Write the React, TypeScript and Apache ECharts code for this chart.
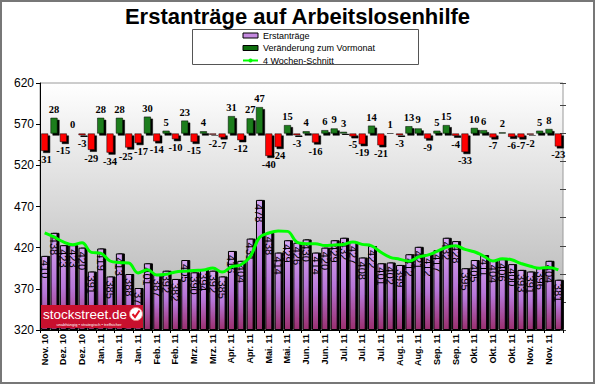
import React, { useEffect, useRef } from 'react';
import * as echarts from 'echarts';

const tickLabels = [
  'Nov. 10', 'Dez. 10', 'Dez. 10', 'Jan. 11', 'Jan. 11', 'Jan. 11', 'Feb. 11', 'Feb. 11',
  'Mrz. 11', 'Mrz. 11', 'Apr. 11', 'Apr. 11', 'Mai. 11', 'Mai. 11', 'Jun. 11', 'Jun. 11',
  'Jul. 11', 'Jul. 11', 'Jul. 11', 'Aug. 11', 'Aug. 11', 'Sep. 11', 'Sep. 11', 'Okt. 11',
  'Okt. 11', 'Okt. 11', 'Nov. 11', 'Nov. 11',
];

const claims = [
  410, 438, 423, 423, 420, 391, 419, 385, 413, 388, 371, 401, 387, 392, 382, 405, 390, 394, 392, 385,
  416, 404, 431, 478, 438, 414, 429, 426, 430, 414, 420, 429, 432, 427, 408, 422, 401, 402, 399, 412,
  421, 412, 417, 432, 428, 395, 405, 411, 404, 406, 400, 393, 391, 396, 404, 381,
];

const changes = [
  -31, 28, -15, 0, -3, -29, 28, -34, 28, -25, -17, 30, -14, 5, -10, 23, -15, 4, -2, -7,
  31, -12, 27, 47, -40, -24, 15, -3, 4, -16, 6, 9, 3, -5, -19, 14, -21, 1, -3, 13,
  9, -9, 5, 15, -4, -33, 10, 6, -7, 2, -6, -7, -2, 5, 8, -23,
];

const avg4 = [
  438, 433, 427, 423.5, 426, 414.3, 413.3, 403.8, 402, 401.3, 389.3, 393.3, 386.8, 387.8, 390.5,
  391.5, 392.3, 392.8, 395.3, 390.3, 396.8, 399.3, 409, 432.3, 437.8, 440.3, 439.8, 426.8, 424.8,
  424.8, 422.5, 423.3, 423.8, 427, 424, 422.3, 414.5, 408.3, 406, 403.5, 408.5, 411, 415.5, 420.5,
  422.3, 418, 415, 409.8, 403.8, 406.5, 405.3, 400.8, 397.5, 395, 396, 393,
];

const categories = claims.map((_, i) => tickLabels[Math.floor(i / 2)]);

export default function App() {
  const ref = useRef<HTMLDivElement>(null);
  useEffect(() => {
    document.body.style.margin = '0';
    const chart = echarts.init(ref.current as HTMLDivElement, null, { renderer: 'svg' });
    const barGrad = new echarts.graphic.LinearGradient(0, 0, 0, 1, [
      { offset: 0, color: '#d9a8f2' },
      { offset: 0.5, color: '#b776d8' },
      { offset: 1, color: '#9a2f6e' },
    ]);
    const plotBg = new echarts.graphic.LinearGradient(0, 0, 0, 1, [
      { offset: 0, color: '#ffffff' },
      { offset: 1, color: '#b0b0b0' },
    ]);
    // nudge labels of adjacent deep negative bars apart so they do not collide
    const labelShift = (i: number) => {
      const v = changes[i];
      if (v >= 0) return 0;
      const prev = i > 0 ? changes[i - 1] : 0;
      const next = i < changes.length - 1 ? changes[i + 1] : 0;
      if (next <= -10 && v <= -10 && Math.abs(v - next) < 12) return -3;
      if (prev <= -10 && v <= -10 && Math.abs(v - prev) < 12) return 3;
      return 0;
    };
    const option: any = {
      animation: false,
      backgroundColor: '#ffffff',
      textStyle: { fontFamily: 'Liberation Sans' },
      title: {
        text: 'Erstanträge auf Arbeitslosenhilfe',
        left: 'center',
        top: 0,
        textStyle: { fontSize: 22, fontWeight: 'bold', color: '#000', fontFamily: 'Liberation Sans' },
      },
      legend: {
        orient: 'vertical',
        left: 242,
        top: 30,
        itemWidth: 15,
        itemHeight: 5,
        itemGap: 1.5,
        padding: 0,
        textStyle: { fontSize: 9, color: '#000', fontFamily: 'Liberation Sans', lineHeight: 11 },
        data: [
          { name: 'Erstanträge', icon: 'rect', itemStyle: { color: '#c58ae0', borderColor: '#000', borderWidth: 1 } },
          { name: 'Veränderung zum Vormonat', icon: 'rect', itemStyle: { color: '#0e6e0e', borderColor: '#000', borderWidth: 1 } },
          { name: '4 Wochen-Schnitt' },
        ],
      },
      grid: {
        left: 40, right: 32, top: 83, bottom: 54,
        show: true, backgroundColor: plotBg, borderColor: '#9a9a9a', borderWidth: 1,
      },
      xAxis: {
        type: 'category',
        data: categories,
        axisLine: { onZero: false, lineStyle: { color: '#000' } },
        axisTick: { show: true, length: 3, lineStyle: { color: '#000' } },
        axisLabel: { interval: 1, rotate: 90, fontSize: 9, fontWeight: 'bold', color: '#000', margin: 4 },
      },
      yAxis: [
        {
          type: 'value', min: 320, max: 620, interval: 50, startValue: 320,
          axisLine: { show: true, lineStyle: { color: '#000' } },
          axisTick: { show: true, length: 4, lineStyle: { color: '#000' } },
          axisLabel: { fontSize: 12, color: '#000', margin: 6 },
          splitLine: { show: false },
        },
        {
          type: 'value', min: -350, max: 90, interval: 50, position: 'right', offset: -3,
          axisLine: { show: false },
          axisTick: { show: true, length: 6, lineStyle: { color: '#444' } },
          axisLabel: { show: false },
          splitLine: { show: false },
        },
      ],
      series: [
        {
          name: 'Erstanträge',
          type: 'bar',
          data: claims,
          barWidth: 7,
          barGap: '-100%',
          itemStyle: {
            color: barGrad, borderColor: '#000', borderWidth: 1,
            shadowColor: '#000', shadowOffsetX: 2, shadowOffsetY: 0, shadowBlur: 0,
          },
          label: {
            show: true, position: 'insideTop', distance: 4, rotate: -90,
            align: 'left', verticalAlign: 'middle', fontSize: 11, color: '#000',
          },
          z: 2,
        },
        {
          name: 'Veränderung zum Vormonat',
          type: 'bar',
          yAxisIndex: 1,
          barWidth: 7,
          barGap: '-100%',
          data: changes.map((v, i) => ({
            value: v,
            itemStyle: { color: v >= 0 ? '#1a7d1a' : '#ff0000' },
            label: { position: v >= 0 ? 'top' : 'bottom', offset: [labelShift(i), 0] },
          })),
          itemStyle: {
            borderColor: '#000', borderWidth: 0.5,
            shadowColor: '#000', shadowOffsetX: 2, shadowOffsetY: 2, shadowBlur: 0,
          },
          label: {
            show: true, distance: 3, fontFamily: 'Liberation Serif', fontSize: 10.5,
            fontWeight: 'bold', color: '#000',
          },
          z: 3,
        },
        {
          name: '4 Wochen-Schnitt',
          type: 'line',
          data: avg4,
          symbol: 'none',
          smooth: 0.4,
          lineStyle: { color: '#00ff00', width: 3 },
          itemStyle: { color: '#00ff00' },
          z: 4,
        },
      ],
      graphic: [
        {
          type: 'rect', z: 100, silent: true,
          shape: { x: 1, y: 1, width: 593, height: 382 },
          style: { fill: 'none', stroke: '#777', lineWidth: 2 },
        },
        {
          type: 'rect', z: 0, silent: true,
          shape: { x: 192.5, y: 29.5, width: 226, height: 35 },
          style: { fill: '#fff', stroke: '#555', lineWidth: 1 },
        },
        {
          type: 'rect', z: 100,
          shape: { x: 41, y: 305, width: 102, height: 23 },
          style: { fill: '#c8102e' },
        },
        {
          type: 'text', z: 101, x: 43, y: 314,
          style: { text: 'stockstreet.de', fill: '#fff', fontSize: 13.5, fontFamily: 'Liberation Sans', verticalAlign: 'middle' },
        },
        {
          type: 'text', z: 101, x: 89, y: 324.5,
          style: { text: 'unabhängig • strategisch • treffsicher', fill: '#fff', fontSize: 4, fontFamily: 'Liberation Sans', align: 'center', verticalAlign: 'middle' },
        },
        {
          type: 'circle', z: 101,
          shape: { cx: 136, cy: 314, r: 6.5 },
          style: { fill: '#fff', stroke: '#f08080', lineWidth: 1 },
        },
        {
          type: 'polyline', z: 102,
          shape: { points: [[132.5, 314], [135, 317], [139.5, 310.5]] },
          style: { stroke: '#e01020', lineWidth: 2, fill: 'none' },
        },
      ],
    };
    chart.setOption(option);
    return () => chart.dispose();
  }, []);
  return <div ref={ref} style={{ width: 595, height: 384 }} />;
}
